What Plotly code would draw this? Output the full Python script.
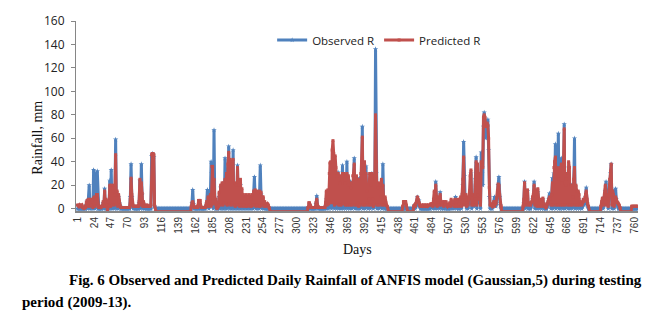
import plotly.graph_objects as go

# Daily rainfall (mm), days 1..764, one line per 23-day tick interval
observed_r = [
    0,0,0,0,0,0,0,0,0,0,0,0,3,6,0,8,20,0,4,0,2,0,33,               # 1-23
    30,0,5,10,32,0,0,0,0,0,0,2,5,0,17,0,6,0,0,4,0,24,0,            # 24-46
    33,0,10,18,0,10,59,0,12,0,10,5,2,0,0,0,0,0,0,0,0,0,0,          # 47-69
    0,0,0,10,38,10,2,0,1,0,0,0,0,0,0,5,24,0,38,12,0,4,0,           # 70-92
    0,1,0,0,0,0,0,0,0,45,47,46,44,2,0,0,0,0,0,0,0,0,0,             # 93-115
    0,0,0,0,0,0,0,0,0,0,0,0,0,0,0,0,0,0,0,0,0,0,0,                 # 116-138
    0,0,0,0,0,0,0,0,0,0,0,0,0,0,0,0,0,0,5,16,4,0,0,                # 139-161
    0,0,0,0,0,2,0,0,0,0,0,0,0,0,2,5,16,6,0,4,10,40,30,             # 162-184
    28,0,67,8,3,0,0,0,2,10,0,18,0,20,0,18,0,43,0,25,0,30,53,       # 185-207
    0,40,0,35,0,50,0,18,0,18,0,37,0,15,0,20,0,12,0,10,0,6,0,       # 208-230
    8,0,4,0,10,0,3,0,8,0,12,27,10,0,12,0,10,0,12,37,12,0,8,        # 231-253
    2,0,1,0,0,0,0,0,0,0,0,0,0,0,0,0,0,0,0,0,0,0,0,                 # 254-276
    0,0,0,0,0,0,0,0,0,0,0,0,0,0,0,0,0,0,0,0,0,0,0,                 # 277-299
    0,0,0,0,0,0,0,0,0,0,0,0,0,0,0,0,1,3,0,0,0,0,0,                 # 300-322
    0,0,0,4,11,2,0,0,0,0,0,0,0,0,0,0,2,8,0,12,0,15,10,             # 323-345
    20,0,25,18,30,0,22,10,0,8,31,0,20,5,0,8,37,0,20,10,0,8,40,     # 346-368
    0,20,8,0,23,5,0,8,20,43,0,10,5,0,2,0,26,0,5,20,70,0,15,        # 369-391
    35,0,36,10,5,0,2,10,0,8,30,3,0,2,10,136,30,0,5,12,0,8,2,       # 392-414
    20,0,38,8,0,2,0,0,0,0,0,0,0,0,0,0,0,0,0,0,0,0,0,               # 415-437
    0,0,0,0,0,0,0,0,2,0,0,0,0,0,0,0,0,0,0,0,0,0,3,                 # 438-460
    0,2,5,10,3,7,2,0,0,0,0,0,0,0,0,0,0,0,0,0,0,1,2,                # 461-483
    3,0,5,8,0,23,6,0,3,8,0,14,2,0,2,0,0,3,0,2,0,0,0,               # 484-506
    0,2,0,3,0,2,5,0,3,10,0,5,7,0,0,5,8,0,10,20,57,28,8,            # 507-529
    10,0,3,0,5,10,8,30,0,5,3,2,10,25,44,0,20,12,5,20,0,48,30,      # 530-552
    20,70,82,75,60,65,70,76,50,10,0,2,0,0,2,5,10,3,2,5,10,20,27,   # 553-575
    10,3,0,0,0,0,0,0,0,0,0,0,0,0,0,0,0,0,0,0,0,0,0,                # 576-598
    0,0,0,0,0,0,0,0,0,0,5,23,0,5,8,15,0,2,0,0,2,5,8,               # 599-621
    10,23,0,15,5,0,14,5,0,3,6,0,5,8,0,2,0,0,0,2,5,8,13,            # 622-644
    6,0,10,26,0,30,20,55,0,45,20,64,0,40,0,43,20,0,15,72,0,20,15,  # 645-667
    10,0,35,20,0,10,20,0,8,20,60,0,15,10,0,12,8,0,5,2,0,2,5,       # 668-690
    3,5,10,18,5,2,0,0,0,0,0,0,0,0,0,0,0,0,0,0,0,0,0,               # 691-713
    0,2,5,0,3,10,15,23,10,5,0,12,20,30,38,0,10,15,0,8,17,8,3,      # 714-736
    2,0,0,0,0,0,0,0,0,0,0,0,0,0,0,0,0,0,0,0,0,0,0,                 # 737-759
    0,0,0,0,0,                                                     # 760-764
]

predicted_r = [
    3,3,2,3,2,3,3,1,1,0,2,1,5,7,2,8,7,2,8,3,7,1,9,                 # 1-23
    10,2,8,12,12,2,1,2,1,1,2,2,6,2,15,2,8,3,-3,6,2,20,2,           # 24-46
    20,3,15,20,3,12,46,4,15,2,12,6,3,1,1,1,1,1,1,1,1,1,1,          # 47-69
    1,1,1,8,26,12,3,2,2,2,2,2,2,2,2,6,25,3,22,13,2,6,2,            # 70-92
    2,2,2,3,2,2,2,2,3,46,47,47,46,3,-3,-3,-3,-3,-3,-3,-3,-3,-3,    # 93-115
    -3,-3,-3,-3,-3,-3,-3,-3,-3,-3,-3,-3,-3,-3,-3,-3,-3,-3,-3,-3,-3,-3,-3,  # 116-138
    -3,-3,-3,-3,-3,-3,-3,-3,-3,-3,-3,-3,-3,-3,-3,-3,-3,2,5,6,3,1,1,        # 139-161
    1,1,2,1,7,7,7,2,1,1,1,1,1,1,3,6,2,10,2,8,12,2,36,              # 162-184
    36,4,25,9,8,2,0,1,2,14,3,20,4,22,3,22,5,25,4,30,3,38,48,       # 185-207
    4,42,3,38,5,42,3,22,2,20,4,35,3,20,2,25,3,17,2,12,3,8,2,       # 208-230
    12,2,10,3,12,2,8,2,12,3,15,3,16,2,15,3,13,2,15,2,14,3,10,      # 231-253
    10,2,6,2,4,3,4,3,1,-3,-3,-3,-3,-3,-3,-3,-3,-3,-3,-3,-3,-3,-3,  # 254-276
    -3,-3,-3,-3,-3,-3,-3,-3,-3,-3,-3,-3,-3,-3,-3,-3,-3,-3,-3,-3,-3,-3,-3,  # 277-299
    -3,-3,-3,-3,-3,-3,-3,-3,-3,-3,-3,-3,-3,-3,-3,1,5,5,3,1,1,1,1,      # 300-322
    1,1,1,5,8,3,1,1,1,1,1,1,1,1,1,1,5,15,3,16,4,30,39,             # 323-345
    40,5,50,58,47,3,45,35,4,28,30,3,28,22,3,25,30,4,30,22,3,28,30, # 346-368
    3,28,20,3,18,22,3,28,30,38,3,25,28,3,5,2,25,3,30,40,61,3,35,   # 369-391
    40,3,30,15,5,3,8,30,3,20,30,8,2,4,25,80,40,3,18,22,3,20,10,    # 392-414
    25,3,20,10,3,10,5,3,2,-3,-3,-3,-3,-3,-3,-3,-3,-3,-3,-3,-3,-3,-3,   # 415-437
    -3,-3,-3,-3,-3,-3,2,6,6,6,6,3,-3,-3,-3,-3,-3,-3,-3,-3,-3,2,3,      # 438-460
    2,4,6,10,8,5,3,2,2,3,3,2,3,3,2,3,3,2,3,3,3,4,4,                # 461-483
    4,2,8,15,3,20,10,2,5,10,3,12,6,3,5,6,2,6,4,6,3,2,3,            # 484-506
    3,5,2,8,5,3,6,2,8,7,2,6,8,2,4,8,10,2,12,25,44,3,10,            # 507-529
    12,2,5,3,8,15,28,33,3,12,5,3,8,20,40,3,38,12,8,30,3,40,35,     # 530-552
    35,78,80,78,70,72,73,71,60,18,3,4,3,2,3,6,2,6,4,8,15,21,20,    # 553-575
    12,5,2,-3,-3,-3,-3,-3,-3,-3,-3,-3,-3,-3,-3,-3,-3,-3,-3,-3,-3,-3,-3,    # 576-598
    -3,-3,-3,-3,-3,-3,-3,-3,-3,2,8,22,3,8,10,16,3,5,4,3,5,6,10,            # 599-621
    12,20,3,16,10,2,17,8,2,7,8,2,8,9,2,4,2,1,2,4,6,8,10,           # 622-644
    8,3,12,22,3,35,40,44,3,35,28,3,25,35,3,38,22,3,40,68,3,25,20,  # 645-667
    30,3,40,35,3,20,18,3,10,25,35,3,20,15,3,15,12,3,6,4,3,5,8,     # 668-690
    6,8,12,15,8,4,2,-3,-3,-3,-3,-3,-3,-3,-3,-3,-3,-3,-3,-3,-3,-3,-3,   # 691-713
    2,6,9,3,8,12,20,3,12,8,2,15,25,32,38,3,15,12,2,9,10,8,5,       # 714-736
    5,4,3,1,-3,-3,-3,-3,-3,-3,-3,-3,-3,-3,-3,-3,-3,-3,-3,2,2,2,2,  # 737-759
    2,2,2,2,2,                                                     # 760-764
]

tick_days = [1, 24, 47, 70, 93, 116, 139, 162, 185, 208, 231, 254, 277, 300,
             323, 346, 369, 392, 415, 438, 461, 484, 507, 530, 553, 576, 599,
             622, 645, 668, 691, 714, 737, 760]
y_ticks = [0, 20, 40, 60, 80, 100, 120, 140, 160]

assert len(observed_r) == len(predicted_r) == 764
days = list(range(1, len(observed_r) + 1))

BLUE = "#4F81BD"
RED = "#C0504D"
GRAY = "#868686"

fig = go.Figure()
fig.add_trace(go.Scatter(
    x=days, y=observed_r, name="Observed R", mode="lines+markers",
    line=dict(color=BLUE, width=3),
    marker=dict(symbol="star", size=4, color=BLUE),
))
fig.add_trace(go.Scatter(
    x=days, y=predicted_r, name="Predicted R", mode="lines+markers",
    line=dict(color=RED, width=3),
    marker=dict(symbol="square", size=3, color=RED),
))

fig.update_layout(
    width=657, height=325,
    margin=dict(l=76, r=19, t=16, b=114),
    paper_bgcolor="white", plot_bgcolor="white",
    font=dict(family="Open Sans, Arial, sans-serif", color="#222"),
    showlegend=True,
    legend=dict(orientation="h", x=0.349, y=0.90, xanchor="left", yanchor="middle",
                font=dict(size=11.5, color="#222"), bgcolor="rgba(0,0,0,0)",
                itemwidth=30, tracegroupgap=0),
    xaxis=dict(range=[-1, 764.5], tickmode="array", tickvals=tick_days,
               ticktext=[str(d) for d in tick_days], tickangle=-90,
               tickfont=dict(size=10, family="Liberation Sans, Arial", color="#333"),
               showline=True, linecolor=GRAY, linewidth=2, ticks="",
               showgrid=False, zeroline=False),
    yaxis=dict(range=[-2, 160], tickmode="array", tickvals=y_ticks,
               tickfont=dict(size=12, color="#222"),
               showline=True, linecolor=GRAY, linewidth=1, ticks="outside",
               ticklen=4, tickcolor=GRAY, ticklabelstandoff=4,
               showgrid=False, zeroline=False),
    annotations=[
        dict(text="Rainfall, mm", xref="paper", yref="paper", x=-0.0676, y=0.386,
             textangle=-90, showarrow=False, xanchor="center", yanchor="middle",
             font=dict(family="Liberation Serif, Times New Roman, serif", size=14, color="#111")),
        dict(text="Days", xref="paper", yref="paper", x=0.5, y=-0.205,
             showarrow=False, xanchor="center", yanchor="middle",
             font=dict(family="Liberation Serif, Times New Roman, serif", size=14, color="#111")),
        dict(text="<b>Fig. 6 Observed and Predicted Daily Rainfall of ANFIS model (Gaussian,5) during testing</b>",
             xref="paper", yref="paper", x=-0.016, y=-0.366, showarrow=False,
             xanchor="left", yanchor="middle",
             font=dict(family="Liberation Serif, Times New Roman, serif", size=15, color="#000")),
        dict(text="<b>period (2009-13).</b>",
             xref="paper", yref="paper", x=-0.0996, y=-0.479, showarrow=False,
             xanchor="left", yanchor="middle",
             font=dict(family="Liberation Serif, Times New Roman, serif", size=15, color="#000")),
    ],
)

fig.write_html("out.html")
